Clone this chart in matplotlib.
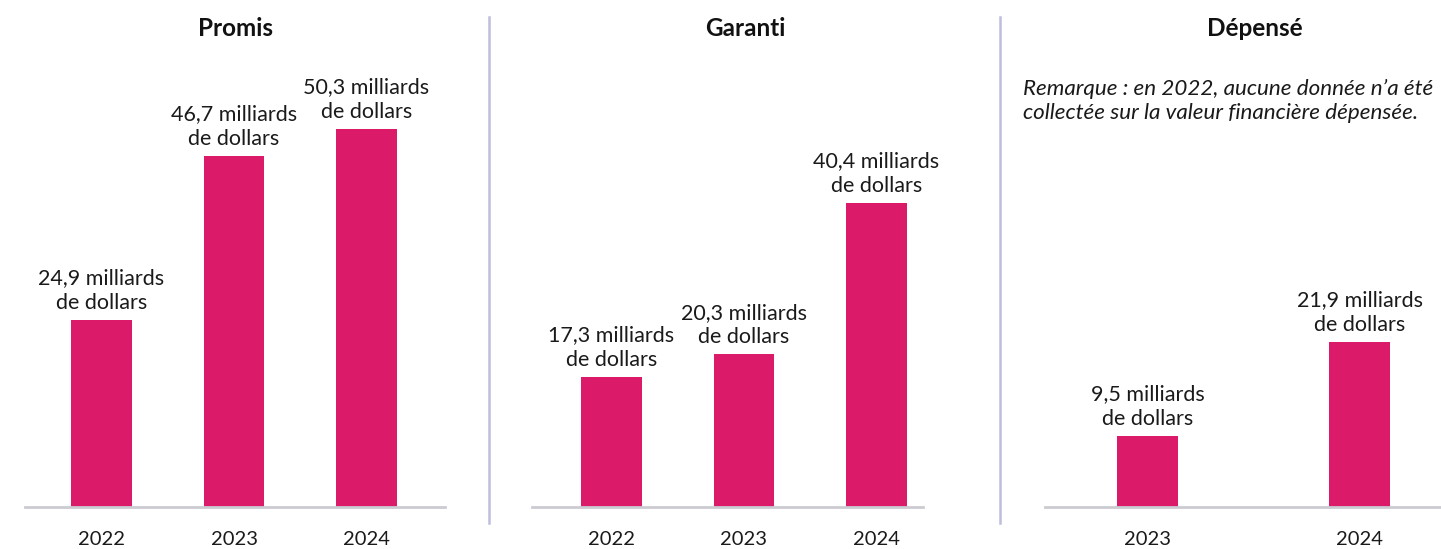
import matplotlib
matplotlib.use("Agg")
import matplotlib.pyplot as plt
from matplotlib.lines import Line2D

plt.rcParams['font.family'] = ['Lato', 'DejaVu Sans']

# ---- data ----
titles = ["Promis", "Garanti", "Dépensé"]
years_promis = ["2022", "2023", "2024"]
values_promis = [24.9, 46.7, 50.3]
years_garanti = ["2022", "2023", "2024"]
values_garanti = [17.3, 20.3, 40.4]
years_depense = ["2023", "2024"]
values_depense = [9.5, 21.9]
remark = "Remarque : en 2022, aucune donnée n\u2019a été\ncollectée sur la valeur financière dépensée."

BAR = "#DC1A6A"
AXIS = "#CBCBD2"
DIV = "#BDBEDD"
TXT = "#1a1a1a"

W, H = 1441, 549
fig = plt.figure(figsize=(W / 100, H / 100), dpi=100)

base_px = 507
top_px = 50
px_per_unit = 7.52
ymax = (base_px - top_px) / px_per_unit


def fmt(v):
    return f"{v:.1f}".replace(".", ",") + " milliards\nde dollars"


def panel(x0, x1, xlim, years, vals, width, title, title_x):
    ax = fig.add_axes([x0 / W, 1 - base_px / H, (x1 - x0) / W, (base_px - top_px) / H])
    pos = list(range(len(years)))
    ax.bar(pos, vals, width=width, color=BAR, zorder=2)
    ax.set_xlim(*xlim)
    ax.set_ylim(0, ymax)
    for s in ["top", "right", "left"]:
        ax.spines[s].set_visible(False)
    ax.spines["bottom"].set_color(AXIS)
    ax.spines["bottom"].set_linewidth(2)
    ax.set_yticks([])
    ax.set_xticks(pos)
    ax.set_xticklabels(years, fontsize=14.5, color=TXT)
    ax.tick_params(axis="x", length=0, pad=17)
    for p, v in zip(pos, vals):
        ax.annotate(fmt(v), (p, v), xytext=(0, 5), textcoords="offset points",
                    ha="center", va="bottom", fontsize=15.5, color=TXT,
                    linespacing=1.3, annotation_clip=False)
    fig.text(title_x / W, 1 - 28 / H, title, ha="center", va="center",
             fontsize=17.5, fontweight="bold", color="#111111")
    return ax


panel(25, 445, (-0.578, 2.593), years_promis, values_promis, 0.46, titles[0], 235)
panel(532, 923, (-0.6, 2.351), years_garanti, values_garanti, 0.46, titles[1], 745)
panel(1045, 1441, (-0.483, 1.384), years_depense, values_depense, 0.288, titles[2], 1255)

for xd in (489, 1000):
    fig.add_artist(Line2D([xd / W, xd / W], [1 - 17 / H, 1 - 523 / H],
                          color=DIV, linewidth=1.8))

fig.text(1023 / W, 1 - 100.5 / H, remark, ha="left", va="center", fontsize=16.1,
         style="italic", color=TXT, linespacing=1.25)

fig.savefig("out.png", dpi=100, facecolor="white")
